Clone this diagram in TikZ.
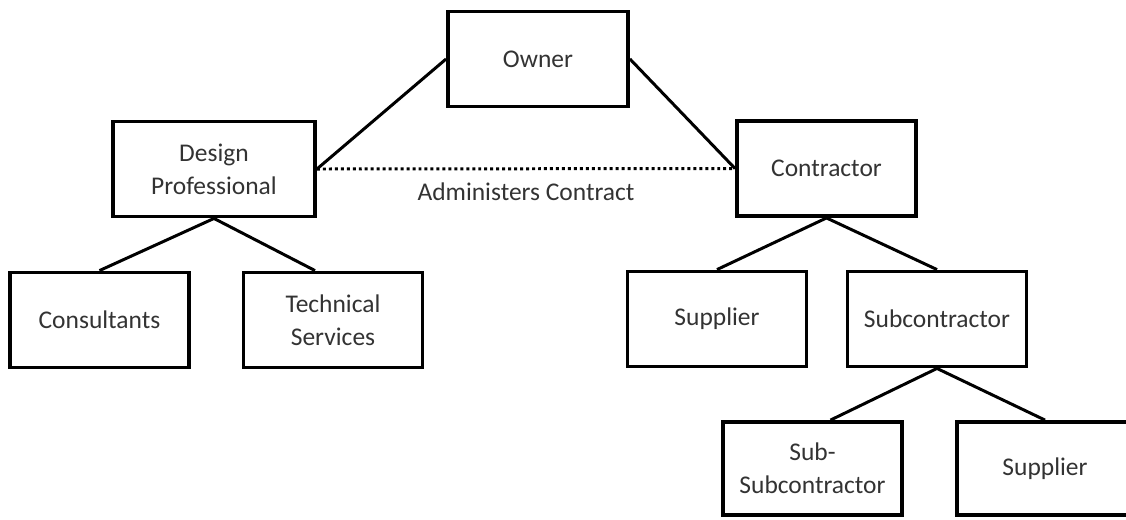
\documentclass[tikz,border=0pt]{standalone}
\usepackage{fontspec}
\setmainfont{Carlito}
\usepackage{tikz}

\begin{document}
\begin{tikzpicture}[box/.style={draw,line width=2.2pt,minimum width=3.58cm,minimum height=1.9cm,align=center,text=black!80,font=\fontsize{14.5}{18.7}\selectfont},
  link/.style={line width=1.7pt}]
\clip (0,0) rectangle (22.52,-10.38);
\fill[white] (0,0) rectangle (22.52,-10.38);
\node[box,minimum width=3.6cm] (owner) at (10.76,-1.18) {Owner};
\node[box,minimum width=4.04cm] (design) at (4.28,-3.38) {Design\\Professional};
\node[box] (contractor) at (16.53,-3.37) {Contractor};
\node[box] (consultants) at (1.99,-6.4) {Consultants};
\node[box] (technical) at (6.66,-6.4) {Technical\\Services};
\node[box] (supplier) at (14.34,-6.38) {Supplier};
\node[box] (subcontractor) at (18.74,-6.38) {Subcontractor};
\node[box,minimum height=1.86cm] (subsub) at (16.25,-9.37) {Sub-\\Subcontractor};
\node[box,minimum width=3.52cm,minimum height=1.86cm] (supplier2) at (20.9,-9.37) {Supplier};
\draw[link] (owner.west) -- (design.east);
\draw[link] (owner.east) -- (contractor.west);
\draw[link,dash pattern=on 1.7pt off 1.7pt] (design.east) -- (contractor.west)
  node[midway,yshift=-0.46cm,text=black!80,font=\fontsize{14.5}{18.7}\selectfont] (admin) {Administers Contract};
\draw[link] (design.south) -- (consultants.north);
\draw[link] (design.south) -- ([xshift=-0.36cm]technical.north);
\draw[link] (contractor.south) -- (supplier.north);
\draw[link] (contractor.south) -- (subcontractor.north);
\draw[link] (subcontractor.south) -- ([xshift=0.36cm]subsub.north);
\draw[link] (subcontractor.south) -- (supplier2.north);
\end{tikzpicture}
\end{document}
